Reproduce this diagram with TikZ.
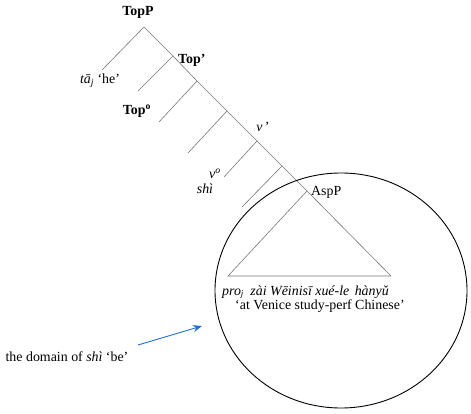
\documentclass[tikz,border=0pt]{standalone}
\usepackage{fontspec}
\setmainfont{Liberation Serif}
\usetikzlibrary{arrows.meta,shapes.geometric}
\definecolor{arrowblue}{RGB}{30,112,210}
\definecolor{treegray}{RGB}{120,120,120}
\begin{document}
\begin{tikzpicture}[x=1pt,y=-1pt,
  branch/.style={draw=treegray, line width=0.6pt},
  lbl/.style={inner sep=0pt, font=\fontsize{13.9}{16}\selectfont},
  blbl/.style={inner sep=0pt, font=\fontsize{13.9}{16}\selectfont\bfseries},
  ilbl/.style={inner sep=0pt, font=\fontsize{13.9}{16}\selectfont\itshape}]
\useasboundingbox (0,0) rectangle (471,414);
% spine points
\coordinate (s0) at (144,27);
\coordinate (s1) at (173,56);
\coordinate (s2) at (197,81);
\coordinate (s3) at (227,111);
\coordinate (s4) at (257,141);
\coordinate (s5) at (282,166);
\coordinate (s6) at (307,191);
\coordinate (tr) at (391,276);
\coordinate (tl) at (228,276);
% left ends
\coordinate (l0) at (102,70);
\coordinate (l1) at (138,91);
\coordinate (l2) at (159,122);
\coordinate (l3) at (188,153);
\coordinate (l4) at (224,177);
\coordinate (l5) at (242,207);
% tree lines
\draw[branch] (s0) -- (s1) -- (s2) -- (s3) -- (s4) -- (s5) -- (s6) -- (tr);
\draw[branch] (s6) -- (tl) -- (tr);
\draw[branch] (s0) -- (l0);
\draw[branch] (s1) -- (l1);
\draw[branch] (s2) -- (l2);
\draw[branch] (s3) -- (l3);
\draw[branch] (s4) -- (l4);
\draw[branch] (s5) -- (l5);
% domain circle
\node[draw=black, line width=0.9pt, ellipse, minimum width=252pt, minimum height=235pt, inner sep=0pt] (dom) at (341,290.5) {};
% labels
\node[blbl] (topp) at (138,12) {TopP};
\node[blbl, anchor=west] (topbar) at (178,60) {Top’};
\node[lbl] (ta) at (100,81) {\textit{tā\textsubscript{j}} ‘he’};
\node[blbl] (topo) at (137,111) {Top\textsuperscript{o}};
\node[lbl] (vbar) at (263,127) {\textit{v}\,’};
\node[ilbl] (vo) at (215,174) {v\textsuperscript{o}};
\node[ilbl] (shi) at (205,189) {shì};
\node[lbl, anchor=west] (aspp) at (311,192) {AspP};
\node[ilbl, anchor=base west] (words) at (222,295.5) {pro{\fontsize{9}{10}\selectfont\raisebox{-1pt}{j}}\hspace{7pt}zài Wēinisī xué-le\hspace{2pt} hànyǔ};
\node[lbl, anchor=base west] (gloss) at (235,309.5) {‘at Venice study-perf Chinese’};
\node[lbl] (domain) at (67,357) {the domain of \textit{shì} ‘be’};
% arrow
\coordinate (a1) at (138,345);
\coordinate (a2) at (202,326);
\draw[arrowblue, line width=0.9pt, -{Stealth[length=9pt,width=7pt]}] (a1) -- (a2);
\end{tikzpicture}
\end{document}
